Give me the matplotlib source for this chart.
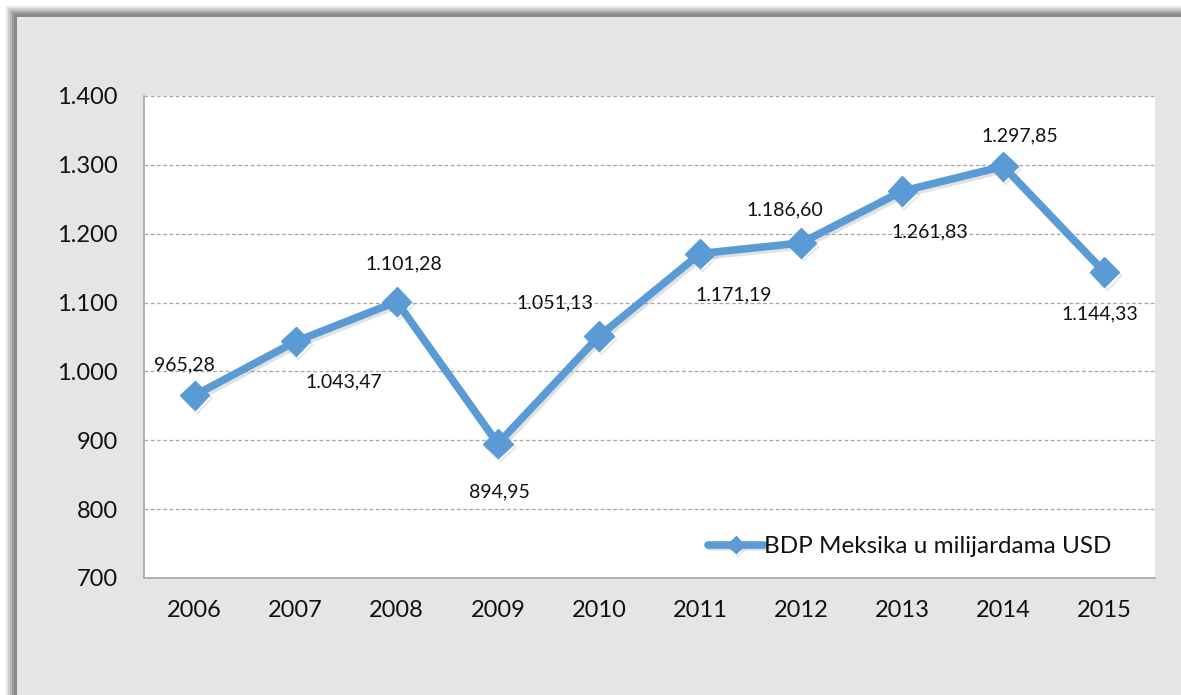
import matplotlib
matplotlib.use("Agg")
import matplotlib.pyplot as plt
from matplotlib.patches import Rectangle
from matplotlib.ticker import FuncFormatter, MultipleLocator
import matplotlib.patheffects as pe

years = ["2006", "2007", "2008", "2009", "2010", "2011", "2012", "2013", "2014", "2015"]
gdp = [965.28, 1043.47, 1101.28, 894.95, 1051.13, 1171.19, 1186.60, 1261.83, 1297.85, 1144.33]
series_name = "BDP Meksika u milijardama USD"
# label offsets (points) relative to each marker
label_offsets = [(-7, 22), (35, -29), (5, 27), (1, -35), (-32, 24),
                 (24, -30), (-12, 24), (20, -29), (12, 22), (-3, -30)]

plt.rcParams['font.family'] = ['Lato', 'DejaVu Sans']

fig = plt.figure(figsize=(11.81, 6.95), dpi=100)
fig.patch.set_facecolor('white')

W, H = 1181, 695
# shadow and panel
for i, c in enumerate(['#e8e8e8', '#cfcfcf', '#b5b5b5', '#9c9c9c', '#8a8a8a']):
    off = 6 + i * 2
    fig.patches.append(Rectangle((off / W, 0), 1, 1 - off / H, transform=fig.transFigure,
                                 facecolor=c, edgecolor='none', zorder=-10))
fig.patches.append(Rectangle((17 / W, 0), 1, 1 - 17 / H, transform=fig.transFigure,
                             facecolor='#e5e5e5', edgecolor='none', zorder=-9))

ax = fig.add_axes([144 / W, 1 - 578 / H, (1155 - 144) / W, (578 - 96) / H])
ax.set_facecolor('white')
x = list(range(len(years)))
line, = ax.plot(x, gdp, color='#5b9bd5', linewidth=5.5, marker='D', markersize=15,
                markeredgecolor='#5b9bd5', markerfacecolor='#5b9bd5',
                solid_joinstyle='round', solid_capstyle='round', zorder=3,
                label=series_name)
line.set_path_effects([pe.SimpleLineShadow(offset=(1.5, -2), shadow_color='#8a8a8a', alpha=0.25),
                       pe.Normal()])

for xi, v, (dx, dy) in zip(x, gdp, label_offsets):
    s = f"{v:,.2f}".replace(',', ' ').replace('.', ',').replace(' ', '.')
    ax.annotate(s, (xi, v), xytext=(dx, dy), textcoords='offset points',
                ha='center', va='center', fontsize=14, color='#111111', zorder=4)

ax.set_xlim(-0.5, len(years) - 0.5)
ax.set_ylim(700, 1400)
ax.set_xticks(x)
ax.set_xticklabels(years)
ax.yaxis.set_major_locator(MultipleLocator(100))
ax.yaxis.set_major_formatter(FuncFormatter(lambda v, p: f"{int(v):,}".replace(',', '.')))
ax.tick_params(axis='both', length=0, labelsize=17, colors='#111111')
ax.tick_params(axis='y', pad=19)
ax.tick_params(axis='x', pad=16)
ax.grid(axis='y', linestyle=(0, (3, 2)), color='#a6a6a6', linewidth=0.9)
ax.set_axisbelow(True)
for s in ['top', 'right']:
    ax.spines[s].set_visible(False)
for s in ['left', 'bottom']:
    ax.spines[s].set_color('#a6a6a6')
    ax.spines[s].set_linewidth(1.2)

leg = ax.legend(loc='lower right', bbox_to_anchor=(0.978, -0.002), frameon=False,
                fontsize=17.5, handlelength=2.3, handletextpad=0.0, markerscale=0.6)
for t in leg.get_texts():
    t.set_color('#111111')

fig.savefig('out.png', dpi=100, facecolor=fig.get_facecolor())
